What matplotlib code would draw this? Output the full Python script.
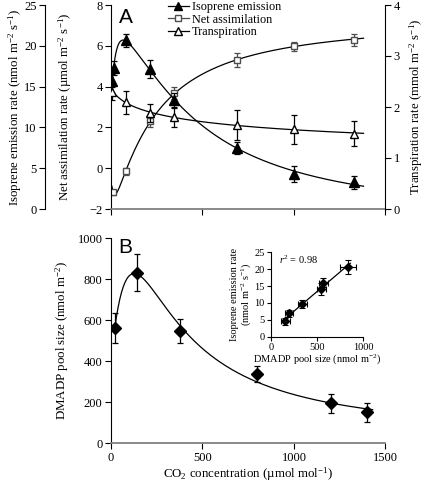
import numpy as np
import matplotlib
matplotlib.use("Agg")
import matplotlib.pyplot as plt
from matplotlib.lines import Line2D

plt.rcParams['font.family'] = ['Liberation Serif', 'DejaVu Serif']
plt.rcParams['mathtext.fontset'] = 'custom'
plt.rcParams['mathtext.rm'] = 'Liberation Serif'
plt.rcParams['mathtext.it'] = 'Liberation Serif:italic'
plt.rcParams['font.size'] = 9.3

# panel A: gas exchange vs CO2
a_iso_x = [8, 14, 80, 215, 345, 690, 1000, 1330]
a_iso = [15.7, 17.3, 20.7, 17.1, 13.3, 7.5, 4.3, 3.25]
a_iso_err = [0.8, 0.85, 0.8, 1.1, 0.9, 0.7, 1.0, 0.85]

a_net_x = [12, 80, 215, 345, 690, 1000, 1330]
a_net = [-1.19, -0.16, 2.29, 3.68, 5.32, 5.97, 6.30]
a_net_err = [0.12, 0.15, 0.28, 0.3, 0.34, 0.24, 0.29]

a_tr_x = [8, 80, 215, 345, 690, 1000, 1330]
a_tr = [2.30, 2.09, 1.88, 1.80, 1.65, 1.56, 1.48]
a_tr_err = [0.16, 0.23, 0.18, 0.2, 0.30, 0.28, 0.25]

# panel B: DMADP pool vs CO2
b_x = [20, 140, 375, 800, 1200, 1400]
b_pool = [564, 832, 546, 338, 195, 151]
b_err = [73, 89, 58, 41, 45, 45]

# inset: isoprene emission vs DMADP pool
in_pool = [158, 198, 342, 548, 568, 835]
in_iso = [4.6, 6.9, 9.6, 14.2, 16.0, 20.7]
in_xerr = [50, 40, 45, 45, 50, 90]
in_yerr = [1.0, 1.1, 1.2, 1.8, 1.4, 2.0]


def fit_curve(x, y, xs, t_grid=(8, 15, 25, 40, 60), n_grid=(0.6, 0.8, 1.0, 1.25, 1.5, 2.0, 2.5, 3.0)):
    # y = (c + a / (1 + (x/k)^n)) * (1 - b exp(-x/t)), least squares on a grid
    x = np.asarray(x, float)
    y = np.asarray(y, float)
    best = None
    for k in np.geomspace(30, 3000, 36):
        for n in n_grid:
            h = 1 / (1 + (x / k) ** n)
            for t in t_grid:
                for b in np.linspace(0, 0.8, 17):
                    g = 1 - b * np.exp(-x / t)
                    A = np.column_stack([g, h * g])
                    coef = np.linalg.lstsq(A, y, rcond=None)[0]
                    err = np.sum((A @ coef - y) ** 2)
                    if best is None or err < best[0]:
                        best = (err, k, n, t, b, coef)
    _, k, n, t, b, coef = best
    g = 1 - b * np.exp(-xs / t)
    return (coef[0] + coef[1] / (1 + (xs / k) ** n)) * g


fig = plt.figure(figsize=(4.27, 4.88), dpi=100)
W, H = 427, 488
ax_a = fig.add_axes([111 / W, 1 - 209 / H, 274.5 / W, 204 / H])
ax_t = ax_a.twinx()
ax_i = ax_a.twinx()
ax_b = fig.add_axes([111 / W, 1 - 443.3 / H, 274.5 / W, 205 / H])
ax_in = fig.add_axes([270.7 / W, 1 - 336.7 / H, 92.6 / W, 84.4 / H])

eb = dict(capsize=2.5, elinewidth=0.9, capthick=0.9, linestyle='none')

# --- panel A
xs = np.linspace(8, 1380, 300)
ax_i.plot(xs, fit_curve(a_iso_x, a_iso, xs), color='k', lw=0.9)
ax_i.errorbar(a_iso_x, a_iso, yerr=a_iso_err, marker='^', ms=6.5, color='k',
              ecolor='k', **eb)
xs = np.linspace(5, 1380, 300)
ax_a.plot(xs, fit_curve(a_net_x, a_net, xs), color='k', lw=0.9)
ax_a.errorbar(a_net_x, a_net, yerr=a_net_err, marker='s', ms=5, mfc='white',
              mec='0.3', ecolor='0.3', **eb)
xs = np.linspace(5, 1380, 300)
ax_t.plot(xs, fit_curve(a_tr_x, a_tr, xs), color='k', lw=0.9)
ax_t.errorbar(a_tr_x, a_tr, yerr=a_tr_err, marker='^', ms=6, mfc='white',
              mec='k', ecolor='k', **eb)

ax_a.set_xlim(0, 1500)
ax_a.set_ylim(-2, 8)
ax_a.set_yticks(range(-2, 9, 2))
ax_a.set_xticks([0, 500, 1000, 1500])
ax_a.set_xticklabels([])
ax_t.set_ylim(0, 4)
ax_t.set_yticks(range(0, 5))
ax_i.set_ylim(0, 25)
ax_i.set_yticks(range(0, 26, 5))

ax_i.spines['left'].set_position(('outward', 47.5))
ax_i.spines['left'].set_visible(True)
ax_i.yaxis.set_ticks_position('left')
ax_i.yaxis.set_label_position('left')
for s in ['right', 'top', 'bottom']:
    ax_i.spines[s].set_visible(False)
for s in ['left', 'top', 'bottom']:
    ax_t.spines[s].set_visible(False)
ax_a.spines['top'].set_visible(False)
ax_a.spines['right'].set_visible(False)
ax_a.spines['bottom'].set_color('0.5')
ax_a.spines['bottom'].set_linewidth(1.3)

ax_a.set_ylabel('Net assimilation rate (µmol m$^{-2}$ s$^{-1}$)', labelpad=11)
ax_t.set_ylabel('Transpiration rate (mmol m$^{-2}$ s$^{-1}$)', labelpad=5)
ax_i.set_ylabel('Isoprene emission rate (nmol m$^{-2}$ s$^{-1}$)', labelpad=0)
ax_a.text(0.03, 0.985, 'A', transform=ax_a.transAxes, ha='left', va='top',
          fontsize=15, family='Liberation Sans')

handles = [
    Line2D([], [], color='k', marker='^', ms=6, lw=0.9),
    Line2D([], [], color='0.3', marker='s', ms=4.5, mfc='white', lw=0.9),
    Line2D([], [], color='k', marker='^', ms=6, mfc='white', lw=0.9),
]
ax_i.legend(handles, ['Isoprene emission', 'Net assimilation', 'Transpiration'],
            loc='upper left', bbox_to_anchor=(0.18, 1.055), frameon=False,
            fontsize=8.8, handlelength=1.7, handletextpad=0.3, labelspacing=0.05,
            borderaxespad=0.2)

# --- panel B
xs = np.linspace(20, 1430, 300)
ax_b.plot(xs, fit_curve(b_x, b_pool, xs, t_grid=(80, 100, 120), n_grid=(1.5, 2.0, 2.5, 3.0)),
          color='k', lw=0.9)
ax_b.errorbar(b_x, b_pool, yerr=b_err, marker='D', ms=6, color='k', **eb)
ax_b.set_xlim(0, 1500)
ax_b.set_ylim(0, 1000)
ax_b.set_xticks([0, 500, 1000, 1500])
ax_b.set_yticks(range(0, 1001, 200))
ax_b.spines['top'].set_visible(False)
ax_b.spines['right'].set_visible(False)
ax_b.spines['bottom'].set_color('0.5')
ax_b.spines['bottom'].set_linewidth(1.3)
ax_b.set_ylabel('DMADP pool size (nmol m$^{-2}$)', labelpad=5)
ax_b.text(0.025, 1.0, 'B', transform=ax_b.transAxes, ha='left', va='top',
          fontsize=15, family='Liberation Sans')

# --- inset
coef = np.polyfit(in_pool, in_iso, 1)
xs = np.linspace(140, 860, 50)
ax_in.plot(xs, np.polyval(coef, xs), color='k', lw=0.9)
ax_in.errorbar(in_pool, in_iso, xerr=in_xerr, yerr=in_yerr, marker='D', ms=4,
               color='k', capsize=2, elinewidth=0.8, capthick=0.8,
               linestyle='none')
ax_in.set_xlim(0, 1000)
ax_in.set_ylim(0, 25)
ax_in.set_xticks([0, 500, 1000])
ax_in.set_yticks(range(0, 26, 5))
ax_in.spines['top'].set_visible(False)
ax_in.spines['right'].set_visible(False)
ax_in.tick_params(labelsize=7.5, length=3, pad=1.5)
ax_in.set_xlabel('DMADP pool size (nmol m$^{-2}$)', fontsize=7.5, labelpad=0)
ax_in.set_ylabel('Isoprene emission rate\n(nmol m$^{-2}$ s$^{-1}$)', fontsize=7.5,
                 labelpad=1, linespacing=0.95)
ax_in.text(0.09, 0.99, '$r^2$ = 0.98', transform=ax_in.transAxes, fontsize=7.5,
           ha='left', va='top')

for ax in [ax_a, ax_t, ax_i, ax_b]:
    ax.tick_params(labelsize=9, length=4, pad=2)
ax_b.set_xlabel('CO$_2$ concentration (µmol mol$^{-1}$)', labelpad=1)

fig.savefig('out.png', dpi=100)
